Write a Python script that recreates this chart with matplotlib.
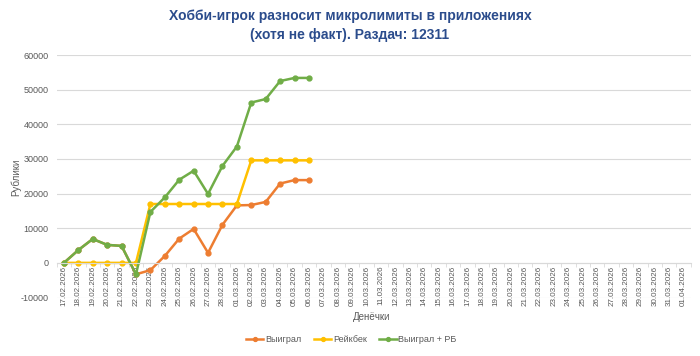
import numpy as np
import pandas as pd
import matplotlib
matplotlib.use("Agg")
import matplotlib.pyplot as plt

dates = pd.date_range("2026-02-17", "2026-04-01", freq="D").strftime("%d.%m.%Y").tolist()

won = [0, 3700, 6900, 5200, 4900, -3300, -2100, 2000, 7000, 9800,
       2900, 11000, 16600, 16700, 17600, 22900, 23900, 23900]
rakeback = [0, 0, 0, 0, 0, 0, 17000, 17000, 17000, 17000,
            17000, 17000, 17000, 29600, 29600, 29600, 29600, 29600]
won_rb = [0, 3700, 6900, 5200, 4900, -3300, 14700, 18900, 24000, 26600,
          19900, 28000, 33600, 46300, 47300, 52500, 53400, 53400]

plt.rcParams['font.family'] = ['Liberation Sans', 'DejaVu Sans']
plt.rcParams['axes.unicode_minus'] = False

fig = plt.figure(figsize=(7, 3.56), dpi=100)
ax = fig.add_axes([0.081, 0.1643, 0.906, 0.681])

x = np.arange(len(won))
ax.plot(x, won, color="#ED7D31", lw=1.8, marker="o", ms=3.5, label="Выиграл")
ax.plot(x, rakeback, color="#FFC000", lw=1.8, marker="o", ms=3.5, label="Рейкбек")
ax.plot(x, won_rb, color="#70AD47", lw=1.8, marker="o", ms=3.5, label="Выиграл + РБ")

ax.set_xlim(-0.5, len(dates) - 0.5)
ax.set_ylim(-10000, 60000)
ax.set_yticks(np.arange(-10000, 60001, 10000))
ax.grid(axis="y", color="#D9D9D9", lw=0.8)
ax.set_axisbelow(True)

for s in ["top", "right", "left"]:
    ax.spines[s].set_visible(False)
ax.spines["bottom"].set_position(("data", 0))
ax.spines["bottom"].set_color("#D9D9D9")

ax.set_xticks(np.arange(len(dates)))
ax.set_xticklabels(dates, rotation=90, fontsize=5.8, color="#595959")
ax.tick_params(axis="x", which="major", length=0, pad=2)
ax.set_xticks(np.arange(len(dates) + 1) - 0.5, minor=True)
ax.tick_params(axis="x", which="minor", length=3, color="#D9D9D9")
ax.tick_params(axis="y", length=0, labelsize=6.5, labelcolor="#595959", pad=6)

fig.text(0.5, 1 - 16 / 356, "Хобби-игрок разносит микролимиты в приложениях",
         ha="center", va="center", fontsize=10, fontweight="bold", color="#2B4C8C")
fig.text(0.5, 1 - 35 / 356, "(хотя не факт). Раздач: 12311",
         ha="center", va="center", fontsize=10, fontweight="bold", color="#2B4C8C")
fig.text(372 / 700, 1 - 317 / 356, "Денёчки", ha="center", va="center",
         fontsize=7, color="#595959")
fig.text(16 / 700, 1 - 177 / 356, "Рублики", ha="center", va="center",
         rotation=90, fontsize=7, color="#595959")

fig.legend(loc="center", bbox_to_anchor=(0.502, 1 - 340 / 356), ncol=3, frameon=False,
           fontsize=6.5, labelcolor="#595959", handlelength=1.9, columnspacing=1.4,
           handletextpad=0.2, markerscale=0.8)

fig.savefig("out.png", dpi=100)
